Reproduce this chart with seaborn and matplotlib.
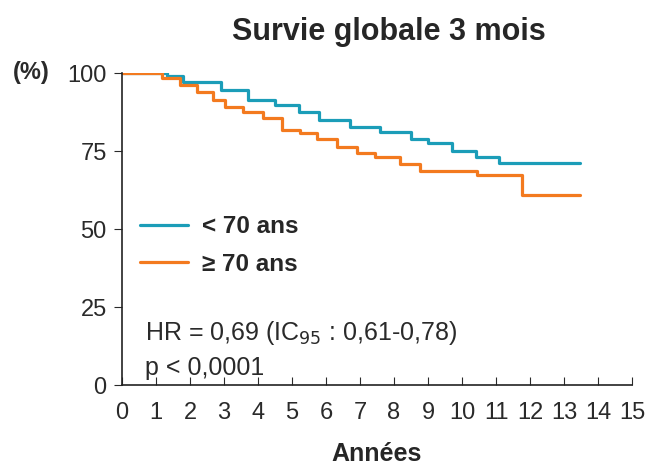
import numpy as np
import pandas as pd
import matplotlib
matplotlib.use("Agg")
import matplotlib.pyplot as plt
import seaborn as sns

# Kaplan-Meier step data (years, survival %)
young_t = [0, 1.32, 1.8, 2.9, 3.7, 4.5, 5.2, 5.8, 6.7, 7.6, 8.5, 9.0, 9.7, 10.4, 11.1, 13.47]
young_s = [100, 99, 97, 94.5, 91.3, 89.7, 87.5, 85, 82.7, 81, 79, 77.6, 75, 73, 71, 71]
old_t = [0, 1.18, 1.71, 2.21, 2.68, 3.03, 3.56, 4.15, 4.71, 5.24, 5.74, 6.32, 6.91, 7.44,
         8.18, 8.76, 10.44, 11.76, 13.47]
old_s = [100, 98.4, 96.2, 93.9, 91.3, 89.1, 87.5, 85.6, 81.7, 80.8, 78.8, 76.3, 74.5, 73,
         70.8, 68.6, 67.3, 61, 61]
groups = ["< 70 ans", "\u2265 70 ans"]
colors = ["#1B9DB8", "#F37A1F"]
x_ticks = list(range(0, 16))
y_ticks = [0, 25, 50, 75, 100]

df = pd.concat([
    pd.DataFrame({"t": young_t, "s": young_s, "g": groups[0]}),
    pd.DataFrame({"t": old_t, "s": old_s, "g": groups[1]}),
], ignore_index=True)

sns.set_style("ticks")
plt.rcParams["font.family"] = ["Liberation Sans", "DejaVu Sans"]

fig = plt.figure(figsize=(6.54, 4.75), dpi=100)
ax = fig.add_axes([122/654, 1 - 385/475, 510/654, 312/475])

sns.lineplot(data=df, x="t", y="s", hue="g", palette=colors, drawstyle="steps-post",
             linewidth=2.3, ax=ax, legend=True, estimator=None, sort=False)

ax.set_xlim(0, 15)
ax.set_ylim(0, 100)
ax.set_xticks(x_ticks)
ax.set_yticks(y_ticks)
ax.tick_params(axis="x", direction="in", length=6, labelsize=17, pad=12, colors="#2a2a2a")
ax.tick_params(axis="y", direction="out", length=6, labelsize=17, pad=5, colors="#2a2a2a")
for sp in ["top", "right"]:
    ax.spines[sp].set_visible(False)
for sp in ["left", "bottom"]:
    ax.spines[sp].set_linewidth(1.2)
    ax.spines[sp].set_color("#222222")
ax.spines["left"].set_bounds(0, 100)

ax.set_xlabel("Années", fontsize=18, fontweight="bold", labelpad=13)
ax.set_ylabel("")
fig.text(13/654, 1 - 73/475, "(%)", fontsize=17, fontweight="bold", va="center", ha="left",
         color="#2a2a2a")
fig.text(389/654, 1 - 32/475, "Survie globale 3 mois", fontsize=22, fontweight="bold",
         ha="center", va="center")

leg = ax.legend(loc="center left", bbox_to_anchor=(0.035, 0.447), frameon=False,
                borderpad=0, borderaxespad=0,
                handlelength=2.0, handletextpad=0.55, labelspacing=0.58,
                prop={"size": 17.5, "weight": "bold"})

ax.text(0.045, 0.167, "HR = 0,69 (IC$_{95}$ : 0,61-0,78)", transform=ax.transAxes,
        fontsize=18, va="center", ha="left", color="#2a2a2a")
ax.text(0.045, 0.054, "p < 0,0001", transform=ax.transAxes,
        fontsize=18, va="center", ha="left", color="#2a2a2a")

fig.savefig("out.png", dpi=100)
